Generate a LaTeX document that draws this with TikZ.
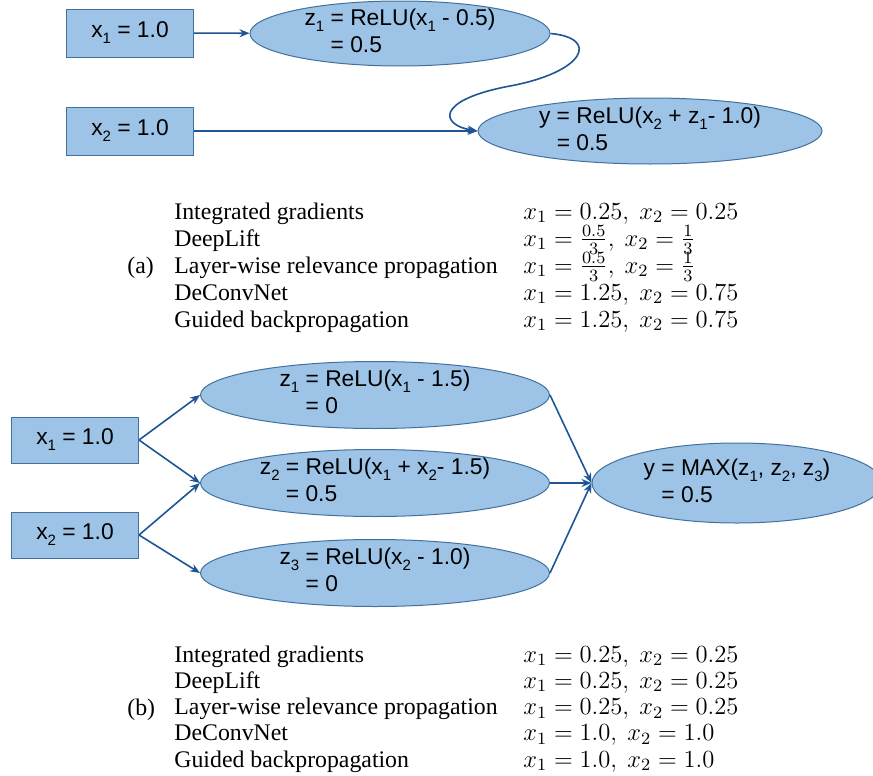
\RequirePackage{fix-cm}
\documentclass[tikz,border=0pt]{standalone}
\usepackage{amsmath}
\usepackage{fontspec}
\setmainfont{Liberation Serif}
\newfontfamily\diagfont{Liberation Sans}
\usetikzlibrary{shapes.geometric,arrows.meta}

\definecolor{boxfill}{RGB}{157,195,230}
\definecolor{boxline}{RGB}{65,113,156}
\definecolor{linkblue}{RGB}{30,85,150}
\newcommand{\lowsub}[1]{\raisebox{-0.5ex}{\fontsize{7.5}{8}\selectfont #1}}

\begin{document}
\begin{tikzpicture}[x=0.5pt,y=-0.5pt,
    inbox/.style={draw=boxline,fill=boxfill,line width=0.5pt,minimum width=63.5pt,
      minimum height=24pt,inner sep=0pt,font=\diagfont\fontsize{11.4}{13.5}\selectfont},
    unit/.style={ellipse,draw=boxline,fill=boxfill,line width=0.5pt,inner xsep=0pt,
      inner ysep=-4pt,align=left,font=\diagfont\fontsize{11.4}{13.5}\selectfont},
    link/.style={draw=linkblue,line width=0.8pt,-{Stealth[length=5pt,width=4pt]}},
    tabtext/.style={anchor=base west,inner sep=0pt,font=\fontsize{11.9}{13.1}\selectfont},
    tabmath/.style={anchor=base west,inner sep=0pt,font=\fontsize{12.3}{13.1}\selectfont}]
\useasboundingbox (0,0) rectangle (873,776);

% network (a)
\node[inbox] (xa) at (130,33) {x\lowsub{1} = 1.0};
\node[inbox] (xb) at (130,131) {x\lowsub{2} = 1.0};
\node[unit,minimum width=150pt,minimum height=32.5pt] (za) at (400,33.5)
  {z\lowsub{1} = ReLU(x\lowsub{1} - 0.5)\\\phantom{z\lowsub{1} }= 0.5};
\node[unit,minimum width=172pt,minimum height=33pt] (ya) at (650,131)
  {y = ReLU(x\lowsub{2} + z\lowsub{1}- 1.0)\\\phantom{y }= 0.5};
\draw[link] (xa) -- (za);
\draw[link] (xb) -- (ya);
\draw[link] (za.east) .. controls (600,38) and (585,72) .. (510,86)
  .. controls (435,100) and (440,125) .. (ya.west);

% table (a)
\node[tabtext] (lbla) at (127,273) {(a)};
\foreach \meth/\res [count=\i] in {
    Integrated gradients/{$x_1 = 0.25,\ x_2 = 0.25$},
    DeepLift/{$x_1 = \frac{0.5}{3},\ x_2 = \frac{1}{3}$},
    Layer-wise relevance propagation/{$x_1 = \frac{0.5}{3},\ x_2 = \frac{1}{3}$},
    DeConvNet/{$x_1 = 1.25,\ x_2 = 0.75$},
    Guided backpropagation/{$x_1 = 1.25,\ x_2 = 0.75$}}
{
  \node[tabtext] (ma\i) at (174,{219+27*(\i-1)}) {\meth};
  \node[tabmath] (va\i) at (523,{219+27*(\i-1)}) {\res};
}

% network (b)
\node[inbox,minimum height=23pt] (xc) at (75,440) {x\lowsub{1} = 1.0};
\node[inbox,minimum height=23pt] (xd) at (75,535) {x\lowsub{2} = 1.0};
\node[unit,minimum width=174.5pt,minimum height=33.5pt] (zc) at (375,395)
  {z\lowsub{1} = ReLU(x\lowsub{1} - 1.5)\\\phantom{z\lowsub{1} }= 0};
\node[unit,minimum width=174.5pt,minimum height=33.5pt] (zd) at (375,483)
  {z\lowsub{2} = ReLU(x\lowsub{1} + x\lowsub{2}- 1.5)\\\phantom{z\lowsub{2} }= 0.5};
\node[unit,minimum width=174.5pt,minimum height=33.5pt] (ze) at (375,573)
  {z\lowsub{3} = ReLU(x\lowsub{2} - 1.0)\\\phantom{z\lowsub{3} }= 0};
\node[unit,minimum width=145pt,minimum height=40pt] (yb) at (737,483)
  {y = MAX(z\lowsub{1}, z\lowsub{2}, z\lowsub{3})\\\phantom{y }= 0.5};
\draw[link] (xc.east) -- (zc.west);
\draw[link] (xc.east) -- (zd.west);
\draw[link] (xd.east) -- (zd.west);
\draw[link] (xd.east) -- (ze.west);
\draw[link] (zc.east) -- (yb.west);
\draw[link] (zd.east) -- (yb.west);
\draw[link] (ze.east) -- (yb.west);

% table (b)
\node[tabtext] (lblb) at (127,715) {(b)};
\foreach \meth/\res [count=\i] in {
    Integrated gradients/{$x_1 = 0.25,\ x_2 = 0.25$},
    DeepLift/{$x_1 = 0.25,\ x_2 = 0.25$},
    Layer-wise relevance propagation/{$x_1 = 0.25,\ x_2 = 0.25$},
    DeConvNet/{$x_1 = 1.0,\ x_2 = 1.0$},
    Guided backpropagation/{$x_1 = 1.0,\ x_2 = 1.0$}}
{
  \node[tabtext] (mb\i) at (174,{662+26.25*(\i-1)}) {\meth};
  \node[tabmath] (vb\i) at (523,{662+26.25*(\i-1)}) {\res};
}
\end{tikzpicture}
\end{document}
